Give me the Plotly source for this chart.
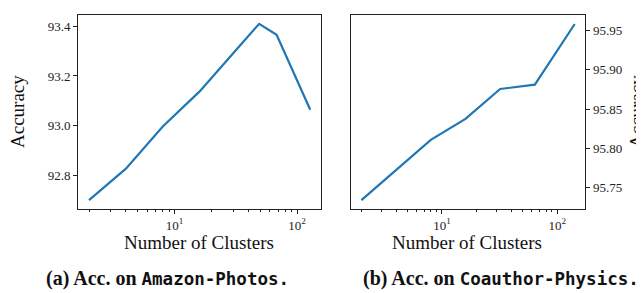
import plotly.graph_objects as go

# Data
clusters_a = [2, 4, 8, 16, 32, 49, 68, 128]
acc_a = [92.70, 92.827, 92.997, 93.138, 93.307, 93.41, 93.366, 93.064]
clusters_b = [2, 4, 8, 16, 32, 64, 142]
acc_b = [95.7344, 95.773, 95.811, 95.8375, 95.8755, 95.881, 95.958]
xtick_vals = [10, 100]
xtick_text = ["10<sup>1</sup>", "10<sup>2</sup>"]
ytick_a = [92.8, 93.0, 93.2, 93.4]
ytick_b = [95.75, 95.80, 95.85, 95.90, 95.95]
minor_vals = [2, 3, 4, 5, 6, 7, 8, 9, 20, 30, 40, 50, 60, 70, 80, 90, 200]

W, H = 644, 293
BLUE = "#1f77b4"
TICKFONT = dict(family="Liberation Serif", size=13, color="#222")
TITLEFONT = dict(family="Liberation Serif", size=19, color="#111")

fig = go.Figure()
fig.add_trace(go.Scatter(x=clusters_a, y=acc_a, mode="lines", line=dict(color=BLUE, width=2.2),
                         xaxis="x", yaxis="y", showlegend=False))
fig.add_trace(go.Scatter(x=clusters_b, y=acc_b, mode="lines", line=dict(color=BLUE, width=2.2),
                         xaxis="x2", yaxis="y2", showlegend=False))

ytop = 1 - 7 / H
ybot = 1 - 201 / H

def xax(domain, rng):
    return dict(domain=domain, type="log", range=rng, showgrid=False, zeroline=False,
                showline=True, mirror=True, linecolor="#222", linewidth=1,
                ticks="outside", ticklen=4, tickwidth=1, tickcolor="#222",
                tickmode="array", tickvals=xtick_vals, ticktext=xtick_text,
                tickfont=TICKFONT,
                minor=dict(ticks="outside", ticklen=2, tickwidth=0.8, tickcolor="#222",
                           tickmode="array", tickvals=minor_vals))

def yax(anchor, rng, vals, fmt, side):
    return dict(domain=[ybot, ytop], anchor=anchor, range=rng, showgrid=False, zeroline=False,
                showline=True, mirror=True, linecolor="#222", linewidth=1,
                ticks="outside", ticklen=4, tickwidth=1, tickcolor="#222",
                tickmode="array", tickvals=vals, ticktext=[fmt.format(v) for v in vals],
                tickfont=TICKFONT, side=side)

fig.update_layout(
    width=W, height=H, margin=dict(l=0, r=0, t=0, b=0),
    paper_bgcolor="white", plot_bgcolor="white",
    xaxis=xax([70 / W, 313 / W], [0.211, 2.195]) | dict(anchor="y"),
    yaxis=yax("x", [92.6645, 93.4455], ytick_a, "{:.1f}", "left"),
    xaxis2=xax([342.7 / W, 577.3 / W], [0.208, 2.244]) | dict(anchor="y2"),
    yaxis2=yax("x2", [95.7232, 95.9694], ytick_b, "{:.2f}", "right"),
)

CAPFONT = dict(family="Liberation Serif", size=20, color="#111")
ann = [
    dict(text="Number of Clusters", x=191 / W, y=1 - 234 / H, font=TITLEFONT),
    dict(text="Number of Clusters", x=459 / W, y=1 - 234 / H, font=TITLEFONT),
    dict(text="Accuracy", x=10 / W, y=1 - 104 / H, font=TITLEFONT, textangle=-90),
    dict(text="Accuracy", x=629 / W, y=1 - 104 / H, font=TITLEFONT, textangle=-90),
    dict(text="<b>(a) Acc. on <span style='font-family:DejaVu Sans Mono;font-size:17.5px'>Amazon-Photos.</span></b>",
         x=36 / W, y=1 - 270 / H, font=CAPFONT, xanchor="left"),
    dict(text="<b>(b) Acc. on <span style='font-family:DejaVu Sans Mono;font-size:17.5px'>Coauthor-Physics.</span></b>",
         x=353 / W, y=1 - 270 / H, font=CAPFONT, xanchor="left"),
]
for a in ann:
    a.setdefault("xanchor", "center")
    a.update(xref="paper", yref="paper", showarrow=False, yanchor="middle")
fig.update_layout(annotations=ann)

fig.write_html("out.html")
